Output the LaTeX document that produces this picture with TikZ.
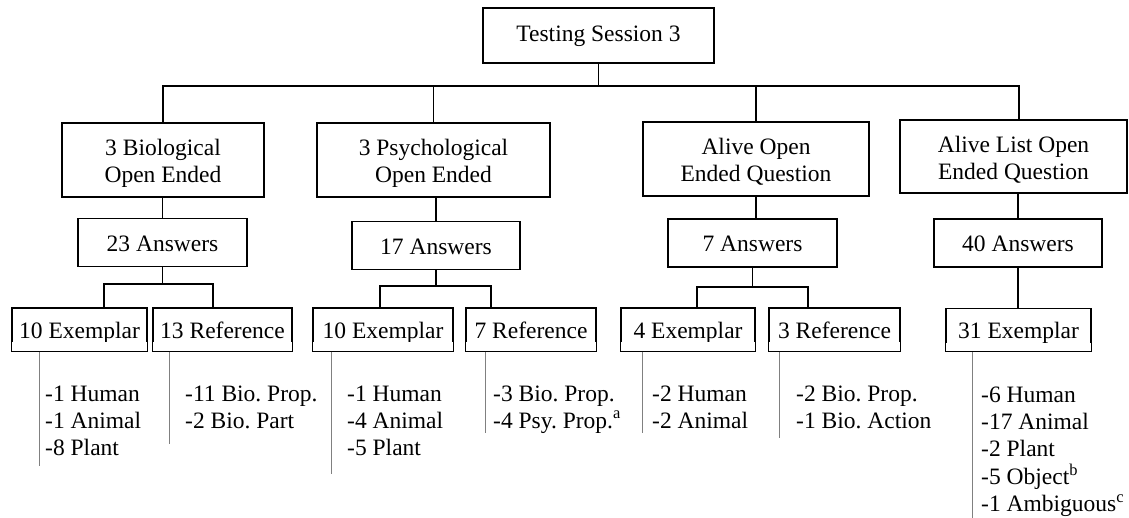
\documentclass[tikz,border=0pt]{standalone}
\usepackage{fontspec}
\setmainfont{Liberation Serif}
\usetikzlibrary{calc}
\frenchspacing
\begin{document}
\begin{tikzpicture}[x=1pt,y=-1pt,
  every node/.style={font=\fontsize{23.5}{27}\selectfont, inner sep=0pt},
  box/.style={draw, line width=1.3pt, fill=white, align=center},
  topbox/.style={box, minimum width=231pt, minimum height=55pt, text height=16pt, text depth=3pt},
  catbox/.style={box, minimum height=74pt, text height=46pt, text depth=0pt},
  ansbox/.style={box, minimum width=169pt, minimum height=48pt, text height=18pt, text depth=0pt},
  leaf/.style={box, minimum height=43pt, text height=17pt, text depth=0pt},
  conn/.style={line width=1.3pt},
  gline/.style={line width=1pt, draw=black!50},
  list/.style={anchor=base west}]
\useasboundingbox (0,0) rectangle (1129,518);

% root
\node[topbox] (top) at (598.5,35.5) {Testing Session 3};

% question types
\node[catbox, minimum width=202pt] (bio) at (163,160)
  {\begin{tabular}[b]{@{}c@{}}3 Biological\\Open Ended\end{tabular}};
\node[catbox, minimum width=233pt] (psy) at (433.5,160)
  {\begin{tabular}[b]{@{}c@{}}3 Psychological\\Open Ended\end{tabular}};
\node[catbox, minimum width=226pt] (alv) at (756,159)
  {\begin{tabular}[b]{@{}c@{}}Alive Open\\Ended Question\end{tabular}};
\node[catbox, minimum width=227pt, minimum height=73pt] (als) at (1013.5,156.5)
  {\begin{tabular}[b]{@{}c@{}}Alive List Open\\Ended Question\end{tabular}};

% answer counts
\node[ansbox] (ans1) at (162.5,242.5) {23 Answers};
\node[ansbox, minimum width=168pt] (ans2) at (436,245.5) {17 Answers};
\node[ansbox] (ans3) at (752.5,243) {7 Answers};
\node[ansbox, minimum width=168pt] (ans4) at (1018,243) {40 Answers};

% answer kinds
\node[leaf, minimum width=135pt] (ex1) at (79.5,329.5) {10 Exemplar};
\node[leaf, minimum width=139pt] (rf1) at (222.5,329.5) {13 Reference};
\node[leaf, minimum width=140pt] (ex2) at (383,329.5) {10 Exemplar};
\node[leaf, minimum width=130pt] (rf2) at (531,329.5) {7 Reference};
\node[leaf, minimum width=134pt] (ex3) at (688,329.5) {4 Exemplar};
\node[leaf, minimum width=131pt] (rf3) at (834.5,329.5) {3 Reference};
\node[leaf, minimum width=145pt] (ex4) at (1018.5,330) {31 Exemplar};

% the leaf boxes cut their text off above the bottom border
\foreach \b in {ex1,rf1,ex2,rf2,ex3,rf3,ex4}
  \fill[white] ($(\b.south west)+(0.7,-0.7)$) rectangle ($(\b.south east)+(-0.7,-9.5)$);

% connectors
\coordinate (busL) at (163,86);
\coordinate (busR) at (1019,86);
\draw[conn] (top.south) -- (top.south |- busL);
\draw[conn] (busL |- bio.north) -- (busL) -- (busR) -- (busR |- als.north);
\draw[conn] (psy.north) -- (psy.north |- busL);
\draw[conn] (alv.north) -- (alv.north |- busL);

\draw[conn] (ans1.north) -- (ans1.north |- bio.south);
\draw[conn] (ans2.north) -- (ans2.north |- psy.south);
\draw[conn] (alv.south) -- (alv.south |- ans3.north);
\draw[conn] (ans4.north) -- (ans4.north |- als.south);

\coordinate (j1a) at (104,284);  \coordinate (j1b) at (213,284);
\coordinate (j2a) at (380,286);  \coordinate (j2b) at (491,286);
\coordinate (j3a) at (697,287);  \coordinate (j3b) at (808,287);
\draw[conn] (ans1.south) -- (ans1.south |- j1a);
\draw[conn] (j1a |- ex1.north) -- (j1a) -- (j1b) -- (j1b |- rf1.north);
\draw[conn] (ans2.south) -- (ans2.south |- j2a);
\draw[conn] (j2a |- ex2.north) -- (j2a) -- (j2b) -- (j2b |- rf2.north);
\draw[conn] (ans3.south) -- (ans3.south |- j3a);
\draw[conn] (j3a |- ex3.north) -- (j3a) -- (j3b) -- (j3b |- rf3.north);
\draw[conn] (ans4.south) -- (ans4.south |- ex4.north);

% grey brackets beside the breakdown lists
\draw[gline] ($(ex1.south west)+(28,0)$) -- ++(0,114);
\draw[gline] ($(rf1.south west)+(17,0)$) -- ++(0,92);
\draw[gline] ($(ex2.south west)+(19,0)$) -- ++(0,122);
\draw[gline] ($(rf2.south west)+(20,0)$) -- ++(0,81);
\draw[gline] ($(ex3.south west)+(22,0)$) -- ++(0,81);
\draw[gline] ($(rf3.south west)+(11,0)$) -- ++(0,86);
\draw[gline] ($(ex4.south west)+(27,0)$) -- ++(0,167);

% breakdown lists
\node[list] (l1) at (45,401) {\begin{tabular}[t]{@{}l@{}}-1 Human\\-1 Animal\\-8 Plant\end{tabular}};
\node[list] (l2) at (185,401) {\begin{tabular}[t]{@{}l@{}}-11 Bio. Prop.\\-2 Bio. Part\end{tabular}};
\node[list] (l3) at (347,401) {\begin{tabular}[t]{@{}l@{}}-1 Human\\-4 Animal\\-5 Plant\end{tabular}};
\node[list] (l4) at (493,401) {\begin{tabular}[t]{@{}l@{}}-3 Bio. Prop.\\-4 Psy. Prop.\textsuperscript{a}\end{tabular}};
\node[list] (l5) at (652,401) {\begin{tabular}[t]{@{}l@{}}-2 Human\\-2 Animal\end{tabular}};
\node[list] (l6) at (796,401) {\begin{tabular}[t]{@{}l@{}}-2 Bio. Prop.\\-1 Bio. Action\end{tabular}};
\node[list] (l7) at (981,402) {\begin{tabular}[t]{@{}l@{}}-6 Human\\-17 Animal\\-2 Plant\\-5 Object\textsuperscript{b}\\-1 Ambiguous\textsuperscript{c}\end{tabular}};
\end{tikzpicture}
\end{document}
